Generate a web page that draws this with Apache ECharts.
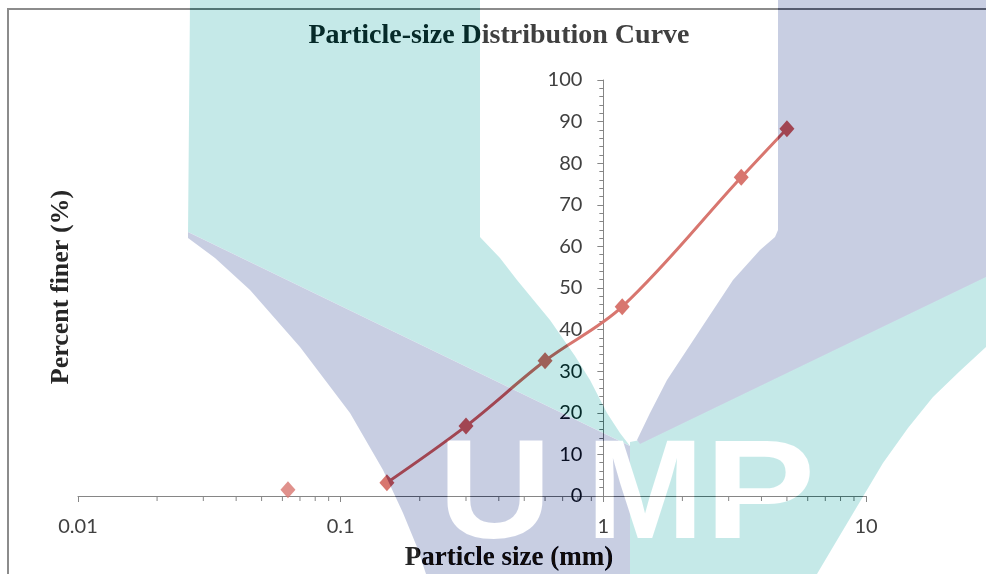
<!DOCTYPE html>
<html>
<head>
<meta charset="utf-8">
<title>Particle-size Distribution Curve</title>
<script src="https://cdn.jsdelivr.net/npm/echarts@6.0.0/dist/echarts.min.js"></script>
<style>
  html, body { margin: 0; padding: 0; background: #ffffff; }
  #chart { width: 986px; height: 574px; }
</style>
</head>
<body>
<div id="chart"></div>
<script>
// Sieve analysis: sieve opening (mm) and cumulative percent passing
const sieveSizes   = [5, 3.35, 1.18, 0.6, 0.3, 0.15];
const percentFiner = [88.3, 76.6, 45.5, 32.5, 16.8, 3.2];

// Material collected in the pan (plotted on its own, not joined to the curve)
const panSize  = [0.063];
const panFiner = [1.5];

// Axis ranges and ticks
const xDecades    = [0.01, 0.1, 1, 10];
const xMinorTicks = [0.02, 0.03, 0.04, 0.05, 0.06, 0.07, 0.08, 0.09,
                     0.2, 0.3, 0.4, 0.5, 0.6, 0.7, 0.8, 0.9,
                     2, 3, 4, 5, 6, 7, 8, 9];
const yMin = 0, yMax = 100, yStep = 10;
const yAxisCrossesAt = 1;   // the percent axis is drawn at 1 mm

// Plot area
const gridBox = { left: 78, right: 120, top: 80, bottom: 78 };
const chartWidth = 986;
const gridWidth = chartWidth - gridBox.left - gridBox.right;
const logSpan = Math.log10(xDecades[xDecades.length - 1]) - Math.log10(xDecades[0]);
const yAxisOffset = -gridWidth * (Math.log10(yAxisCrossesAt) - Math.log10(xDecades[0])) / logSpan;

const lineColor = '#D8766F';
const axisColor = '#868686';
const labelFont = { fontFamily: 'Lato', fontSize: 20, color: '#404040' };

// UMP watermark, painted on its own layer and blended over the chart
const tealInk = '#3A1617';
const purpleInk = '#37311D';
const letterFont = 'bold 141px "Liberation Sans"';
const watermark = [
  { type: 'polygon', shape: { points: [[190, 0], [480, 0], [480, 237], [500, 258], [517, 280], [550, 320],
      [575, 356], [590, 380], [607, 413], [620, 433], [630, 446], [188, 232]] }, style: { fill: tealInk } },
  { type: 'polygon', shape: { points: [[188, 232], [630, 446], [630, 574], [426, 574], [417, 547], [403, 513],
      [383, 470], [350, 413], [300, 347], [250, 290], [215, 258], [188, 238]] }, style: { fill: purpleInk } },
  { type: 'polygon', shape: { points: [[986, 272], [986, 347], [960, 371], [933, 397], [908, 428], [883, 463],
      [858, 505], [833, 547], [817, 574], [630, 574], [630, 442], [640, 440]] }, style: { fill: tealInk } },
  { type: 'polygon', shape: { points: [[778, 0], [986, 0], [986, 277], [640, 444], [637, 440], [650, 413],
      [667, 380], [700, 330], [733, 280], [760, 250], [775, 237], [778, 230]] }, style: { fill: purpleInk } },
  { type: 'text', x: 495, y: 499, scaleX: 1.12, style: { text: 'U', fill: '#000', font: letterFont, align: 'center', verticalAlign: 'middle' } },
  { type: 'text', x: 645, y: 499, style: { text: 'M', fill: '#000', font: letterFont, align: 'center', verticalAlign: 'middle' } },
  { type: 'text', x: 760, y: 499, scaleX: 1.18, style: { text: 'P', fill: '#000', font: letterFont, align: 'center', verticalAlign: 'middle' } }
].map(el => Object.assign({ zlevel: 1, z: 100, silent: true }, el));

const chart = echarts.init(document.getElementById('chart'), null, { renderer: 'canvas' });

const option = {
  backgroundColor: 'transparent',
  animation: false,
  title: {
    text: 'Particle-size Distribution Curve',
    left: 499,
    top: 22,
    padding: 0,
    textAlign: 'center',
    textStyle: { fontFamily: '"Liberation Serif", "Times New Roman", serif', fontWeight: 'bold', fontSize: 28, color: '#404040' }
  },
  grid: { left: gridBox.left, right: gridBox.right, top: gridBox.top, bottom: gridBox.bottom, containLabel: false },
  xAxis: {
    type: 'log',
    logBase: 10,
    min: xDecades[0],
    max: xDecades[xDecades.length - 1],
    axisLine: { show: true, onZero: false, lineStyle: { color: axisColor, width: 1 } },
    axisTick: { show: true, inside: false, length: 6, lineStyle: { color: axisColor, width: 1 } },
    minorTick: { show: false },
    splitLine: { show: false },
    minorSplitLine: { show: false },
    axisLabel: Object.assign({ margin: 21, formatter: v => String(+Number(v).toPrecision(3)) }, labelFont)
  },
  yAxis: {
    type: 'value',
    min: yMin,
    max: yMax,
    interval: yStep,
    position: 'left',
    offset: yAxisOffset,
    axisLine: { show: true, onZero: false, lineStyle: { color: axisColor, width: 1 } },
    axisTick: { show: true, inside: false, length: 6, lineStyle: { color: axisColor, width: 1 } },
    minorTick: { show: true, splitNumber: 5, length: 4, lineStyle: { color: axisColor, width: 1 } },
    splitLine: { show: false },
    minorSplitLine: { show: false },
    axisLabel: Object.assign({ margin: 21 }, labelFont)
  },
  graphic: {
    elements: [
      { type: 'polyline', silent: true, z: 1, shape: { points: [[8, 574], [8, 9], [986, 9]] },
        style: { stroke: '#8C8C8C', lineWidth: 2, fill: null } },
      { type: 'text', silent: true, z: 5, x: 61, y: 287, rotation: Math.PI / 2,
        style: { text: 'Percent finer (%)', font: 'bold 26px "Liberation Serif"', fill: '#262626', align: 'center', verticalAlign: 'middle' } },
      { type: 'text', silent: true, z: 5, x: 509, y: 558,
        style: { text: 'Particle size (mm)', font: 'bold 27px "Liberation Serif"', fill: '#262626', align: 'center', verticalAlign: 'middle' } }
    ].concat(watermark)
  },
  series: [
    {
      name: 'Percent finer',
      type: 'line',
      data: sieveSizes.map((d, i) => [d, percentFiner[i]]),
      smooth: 0.35,
      symbol: 'diamond',
      symbolSize: [15, 17],
      showSymbol: true,
      clip: false,
      lineStyle: { color: lineColor, width: 3 },
      itemStyle: { color: lineColor },
      z: 3
    },
    {
      name: 'Pan',
      type: 'scatter',
      data: panSize.map((d, i) => [d, panFiner[i]]),
      symbol: 'diamond',
      symbolSize: [15, 17],
      clip: false,
      itemStyle: { color: lineColor },
      z: 3
    },
    {
      name: 'Minor ticks',
      type: 'custom',
      silent: true,
      clip: false,
      data: xMinorTicks.map(v => [v, yMin]),
      renderItem: (params, api) => {
        const p = api.coord([api.value(0), api.value(1)]);
        return {
          type: 'line',
          shape: { x1: p[0], y1: p[1], x2: p[0], y2: p[1] + 5 },
          style: { stroke: axisColor, lineWidth: 1 }
        };
      },
      z: 2
    }
  ]
};

chart.setOption(option);

// Blend the watermark layer over the plotted chart
function blendWatermark() {
  const layer = chart.getZr().painter.getLayer(1);
  if (layer && layer.dom) layer.dom.style.mixBlendMode = 'difference';
}
blendWatermark();
chart.on('finished', blendWatermark);
</script>
</body>
</html>
